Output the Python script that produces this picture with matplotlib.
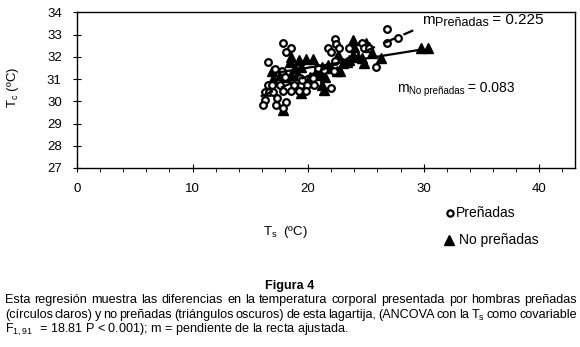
import matplotlib
matplotlib.use("Agg")
import matplotlib.pyplot as plt
import numpy as np

plt.rcParams['font.family'] = ['Liberation Sans', 'DejaVu Sans']
plt.rcParams['mathtext.default'] = 'regular'

# --- data ---
pren_x = [16.5, 17.8, 18.5, 18.1, 16.5, 16.9, 17.6, 18.8, 19.4, 19.9, 20.5, 17.1,
          17.7, 19.3, 16.3, 16.6, 17.0, 17.8, 18.5, 16.3, 17.3, 18.1, 16.1, 17.2,
          17.8, 19.8, 22.0, 22.3, 22.4, 21.7, 22.7, 22.0, 22.3, 23.5, 24.7, 24.8,
          25.3, 25.9, 26.8, 26.8, 27.8, 19.5, 20.4, 20.9, 21.4, 22.2, 18.0, 19.2]
pren_y = [31.78, 32.6, 32.4, 32.2, 30.74, 30.74, 30.74, 30.74, 30.74, 30.74, 30.74, 31.44,
          31.34, 31.04, 30.41, 30.41, 30.41, 30.44, 30.44, 30.07, 30.14, 29.96, 29.84, 29.84,
          29.7, 30.44, 30.6, 32.8, 32.58, 32.39, 32.39, 32.23, 31.8, 32.39, 32.6, 32.4,
          32.39, 31.56, 33.25, 32.61, 32.83, 30.96, 31.04, 31.49, 31.41, 31.34, 31.1, 30.44]

nopren_x = [16.9, 18.4, 18.5, 19.2, 19.8, 20.4, 18.9, 19.4, 17.6, 18.1, 18.5, 20.2,
            20.8, 20.8, 21.2, 21.7, 21.5, 21.2, 19.4, 17.8, 22.8, 23.0, 23.4, 23.9,
            23.9, 24.0, 24.7, 24.8, 25.3, 25.5, 26.3, 29.8, 30.4, 21.4, 22.5, 23.5,
            25.0, 17.0, 19.0, 21.1, 22.0, 19.6, 22.6, 24.3]
nopren_y = [31.34, 31.78, 32.0, 31.86, 31.9, 31.9, 31.49, 31.56, 31.19, 31.11, 31.19, 31.11,
            31.19, 31.41, 31.56, 31.63, 31.11, 30.71, 30.37, 29.6, 31.34, 31.71, 31.78, 32.08,
            32.76, 32.46, 31.94, 31.71, 32.46, 32.16, 31.94, 32.39, 32.39, 30.52, 31.34, 31.86,
            32.6, 31.0, 31.2, 31.26, 31.5, 30.9, 32.1, 32.0]

# regression lines: slope, intercept, x-range
fit_slopes = [0.225, 0.083]
fit_intercepts = [26.64, 29.85]
fit_xmin = [15.9, 16.8]
fit_xmax = [29.1, 29.7]
fit_labels = ['Preñadas', 'No preñadas']
fit_texts = ['0.225', '0.083']

x_ticks = [0, 10, 20, 30, 40]
y_ticks = [27, 28, 29, 30, 31, 32, 33, 34]

W, H = 580, 347
fig = plt.figure(figsize=(W / 100, H / 100), dpi=100)
ax = fig.add_axes([77 / W, 1 - 168 / H, (575 - 77) / W, (168 - 12.3) / H])

ax.plot(nopren_x, nopren_y, linestyle='none', marker='^', markersize=6.5,
        color='black', markeredgecolor='black', zorder=3)
ax.plot(pren_x, pren_y, linestyle='none', marker='o', markersize=4.8,
        markerfacecolor='white', markeredgecolor='black', markeredgewidth=1.6, zorder=4)

for s, b, x0, x1, ls in zip(fit_slopes, fit_intercepts, fit_xmin, fit_xmax, [(0, (6, 4)), '-']):
    xs = np.array([x0, x1])
    ax.plot(xs, b + s * xs, color='black', linewidth=1.6, linestyle=ls, zorder=5)

ax.set_xlim(0, 43.1)
ax.set_ylim(27, 34)
ax.set_xticks(x_ticks)
ax.set_yticks(y_ticks)
ax.set_xticks(np.arange(2, 43, 2), minor=True)
ax.tick_params(axis='both', which='major', direction='inout', length=6, width=0.8,
               labelsize=9.5)
ax.tick_params(axis='y', which='major', pad=8)
ax.tick_params(axis='x', which='major', pad=8)
ax.tick_params(axis='x', which='minor', direction='out', length=3, width=0.6)
for sp in ax.spines.values():
    sp.set_linewidth(1.0)

# axis labels
fig.text(13 / W, 1 - 87 / H, r'$T_c$ (ºC)', rotation=90, fontsize=9.5, ha='center', va='center')
fig.text(285 / W, 1 - 232 / H, r'$T_s$  (ºC)', fontsize=9.5, ha='center', va='center')

# legend
fig.lines.append(plt.Line2D([450 / W], [1 - 213 / H], transform=fig.transFigure, marker='o',
                            markersize=4.5, markerfacecolor='white', markeredgecolor='black',
                            markeredgewidth=1.6, linestyle='none'))
fig.lines.append(plt.Line2D([449 / W], [1 - 240 / H], transform=fig.transFigure, marker='^',
                            markersize=7.5, color='black', linestyle='none'))
fig.text(456 / W, 1 - 213 / H, 'Preñadas', fontsize=10, ha='left', va='center')
fig.text(459 / W, 1 - 240 / H, 'No preñadas', fontsize=10, ha='left', va='center')

fig.canvas.draw()
renderer = fig.canvas.get_renderer()


def slope_label(xpx, ypx, sub, val, main_fs, sub_fs, sub_drop):
    """m with subscript, then '= value'; positioned in pixel coords of the figure."""
    x = xpx
    t = fig.text(x / W, 1 - ypx / H, 'm', fontsize=main_fs, ha='left', va='baseline')
    x += t.get_window_extent(renderer).width
    t = fig.text(x / W, 1 - (ypx + sub_drop) / H, sub, fontsize=sub_fs, ha='left', va='baseline')
    x += t.get_window_extent(renderer).width
    fig.text(x / W, 1 - ypx / H, ' = ' + val, fontsize=main_fs, ha='left', va='baseline')


slope_label(422, 24, fit_labels[0], fit_texts[0], 11, 9, 2.5)
slope_label(397, 92, fit_labels[1], fit_texts[1], 10, 7, 2.5)

# caption
cap_lines = [
    'Esta regresión muestra las diferencias en la temperatura corporal presentada por hombras preñadas',
    '(círculos claros) y no preñadas (triángulos oscuros) de esta lagartija, (ANCOVA con la $T_s$ como covariable',
    '$F_{1,91}$  = 18.81 P < 0.001); m = pendiente de la recta ajustada.',
]
cap_y = [300, 315, 329.5]
left_px, right_px = 5, 577
probe = fig.text(0, 0, cap_lines[0], fontsize=10)
natural = probe.get_window_extent(renderer).width
probe.remove()
cap_fs = 10 * (right_px - left_px) / natural * 0.985

fig.text(290 / W, 1 - 286 / H, 'Figura 4', fontsize=cap_fs, fontweight='bold', ha='center', va='center')
for i, (line, yp) in enumerate(zip(cap_lines, cap_y)):
    yf = 1 - yp / H
    if i == len(cap_lines) - 1:
        fig.text(left_px / W, yf, line, fontsize=cap_fs, ha='left', va='center')
        continue
    words = line.split(' ')
    objs = [fig.text(0, yf, w, fontsize=cap_fs, ha='left', va='center') for w in words]
    widths = [o.get_window_extent(renderer).width for o in objs]
    gap = (right_px - left_px - sum(widths)) / (len(words) - 1)
    xcur = left_px
    for o, wd in zip(objs, widths):
        o.set_x(xcur / W)
        xcur += wd + gap

fig.savefig('out.png', dpi=100)
